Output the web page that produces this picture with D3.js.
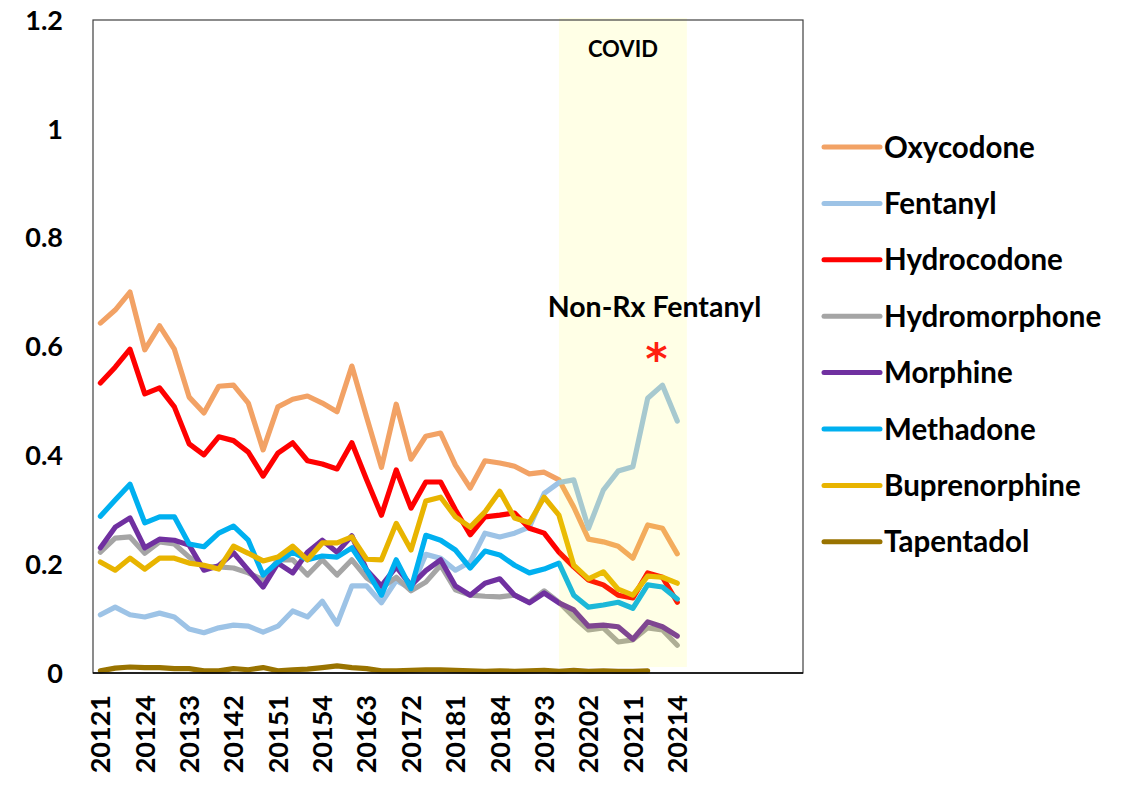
<!DOCTYPE html>
<html>
<head>
<meta charset="utf-8">
<script src="https://cdn.jsdelivr.net/npm/d3@7"></script>
<style>
  body { margin: 0; background: #fff; }
  svg { font-family: Lato, "Open Sans", sans-serif; font-weight: 700; }
</style>
</head>
<body>
<div id="chart"></div>
<script>
// quarters (year + quarter), 2012Q1 .. 2021Q4
const quarters = ["20121","20122","20123","20124","20131","20132","20133","20134",
  "20141","20142","20143","20144","20151","20152","20153","20154",
  "20161","20162","20163","20164","20171","20172","20173","20174",
  "20181","20182","20183","20184","20191","20192","20193","20194",
  "20201","20202","20203","20204","20211","20212","20213","20214"];
const emptySlots = 8; // category slots after 20214 with no data and no label
const yTicks = [0, 0.2, 0.4, 0.6, 0.8, 1, 1.2];

const oxycodone = [0.643,0.667,0.70,0.594,0.638,0.595,0.507,0.478,0.527,0.529,0.496,0.41,0.489,0.503,0.509,0.496,0.48,0.564,0.47,0.378,
  0.494,0.393,0.435,0.441,0.382,0.34,0.39,0.386,0.38,0.366,0.369,0.355,0.305,0.246,0.241,0.233,0.211,0.272,0.266,0.219];
const fentanyl = [0.107,0.121,0.107,0.103,0.11,0.103,0.081,0.074,0.083,0.088,0.086,0.075,0.086,0.114,0.103,0.132,0.09,0.16,0.16,0.129,
  0.17,0.155,0.218,0.211,0.189,0.204,0.257,0.25,0.257,0.268,0.33,0.35,0.355,0.266,0.336,0.371,0.379,0.505,0.529,0.463];
const hydrocodone = [0.533,0.562,0.595,0.513,0.524,0.489,0.421,0.401,0.434,0.427,0.406,0.362,0.404,0.423,0.39,0.384,0.375,0.423,0.355,0.29,
  0.373,0.303,0.351,0.351,0.30,0.254,0.287,0.29,0.294,0.266,0.257,0.222,0.195,0.171,0.162,0.143,0.138,0.184,0.176,0.13];
const hydromorphone = [0.222,0.248,0.25,0.22,0.241,0.237,0.213,0.195,0.195,0.193,0.184,0.171,0.208,0.208,0.18,0.208,0.18,0.208,0.175,0.156,
  0.176,0.151,0.167,0.198,0.153,0.143,0.141,0.14,0.143,0.13,0.151,0.13,0.103,0.079,0.083,0.057,0.061,0.083,0.079,0.051];
const morphine = [0.23,0.268,0.285,0.23,0.246,0.244,0.235,0.189,0.197,0.221,0.189,0.158,0.202,0.184,0.222,0.244,0.222,0.252,0.189,0.16,
  0.195,0.161,0.188,0.208,0.16,0.143,0.165,0.173,0.143,0.129,0.147,0.129,0.116,0.086,0.088,0.085,0.062,0.094,0.085,0.068];
const methadone = [0.288,0.318,0.347,0.276,0.287,0.287,0.237,0.232,0.257,0.27,0.244,0.18,0.204,0.222,0.208,0.215,0.213,0.23,0.189,0.143,
  0.208,0.155,0.253,0.244,0.226,0.193,0.224,0.217,0.198,0.184,0.191,0.202,0.143,0.121,0.125,0.13,0.119,0.162,0.158,0.136];
const buprenorphine = [0.204,0.189,0.211,0.191,0.211,0.211,0.202,0.198,0.191,0.233,0.22,0.206,0.213,0.233,0.208,0.239,0.239,0.25,0.209,0.208,
  0.275,0.226,0.316,0.323,0.287,0.268,0.296,0.334,0.285,0.276,0.323,0.29,0.198,0.173,0.186,0.154,0.143,0.178,0.176,0.165];
const tapentadol = [0.004,0.009,0.011,0.01,0.01,0.008,0.008,0.004,0.004,0.008,0.006,0.01,0.004,0.006,0.007,0.01,0.013,0.01,0.008,0.004,
  0.004,0.005,0.006,0.006,0.005,0.004,0.003,0.004,0.003,0.004,0.005,0.003,0.005,0.003,0.004,0.003,0.003,0.004];

const seriesNames = ["Oxycodone","Fentanyl","Hydrocodone","Hydromorphone","Morphine","Methadone","Buprenorphine","Tapentadol"];
const seriesValues = [oxycodone, fentanyl, hydrocodone, hydromorphone, morphine, methadone, buprenorphine, tapentadol];
const seriesColors = ["#F2A265","#9DC3E6","#FF0000","#A5A5A5","#7030A0","#00B0F0","#E8B400","#997300"];

const covidStart = "20194", covidEnd = "20214";
const annotation = "Non-Rx Fentanyl";

const width = 1132, height = 785;
const margin = { top: 20, right: 329, bottom: 112, left: 93 };

const svg = d3.select("#chart").append("svg").attr("width", width).attr("height", height);

const slots = d3.range(quarters.length + emptySlots);
const x = d3.scaleBand().domain(slots).range([margin.left, width - margin.right]);
const xc = i => x(i) + x.bandwidth() / 2;
const y = d3.scaleLinear().domain([0, 1.2]).range([height - margin.bottom, margin.top]);

// y labels
svg.append("g").selectAll("text").data(yTicks).enter().append("text")
  .attr("x", 63).attr("y", d => y(d)).attr("dy", "0.36em")
  .attr("text-anchor", "end").style("font-size", "27px").text(d => d);

// x labels (every 3rd quarter)
svg.append("g").selectAll("text")
  .data(quarters.map((q, i) => ({ q, i })).filter(d => d.i % 3 === 0)).enter().append("text")
  .attr("transform", d => `translate(${xc(d.i)},${y(0) + 22}) rotate(-90)`)
  .attr("dy", "0.36em").attr("text-anchor", "end").style("font-size", "27px")
  .text(d => d.q);

// lines
const line = d3.line().x((d, i) => xc(i)).y(d => y(d));
seriesValues.forEach((vals, k) => {
  svg.append("path").datum(vals).attr("d", line)
    .attr("fill", "none").attr("stroke", seriesColors[k]).attr("stroke-width", 5.2)
    .attr("stroke-linejoin", "round").attr("stroke-linecap", "round");
});

// COVID shading (semi-transparent, over the lines)
const i0 = quarters.indexOf(covidStart), i1 = quarters.indexOf(covidEnd);
svg.append("rect")
  .attr("x", xc(i0)).attr("y", y(1.2) - 2)
  .attr("width", xc(i1) + x.bandwidth() * 0.65 - xc(i0))
  .attr("height", y(0.011) - y(1.2) + 2)
  .attr("fill", "rgb(255,255,30)").attr("fill-opacity", 0.11);

svg.append("text").attr("x", (xc(i0) + xc(i1) + x.bandwidth() * 0.65) / 2).attr("y", 57)
  .attr("text-anchor", "middle").style("font-size", "22px").text("COVID");

// plot frame
svg.append("rect").attr("x", margin.left).attr("y", margin.top)
  .attr("width", width - margin.left - margin.right).attr("height", y(0) - margin.top)
  .attr("fill", "none").attr("stroke", "#404040").attr("stroke-width", 1.2);
svg.append("line").attr("x1", margin.left).attr("x2", width - margin.right)
  .attr("y1", y(0)).attr("y2", y(0)).attr("stroke", "#000").attr("stroke-width", 1.5);

// annotation
const ax = xc(quarters.indexOf("20213"));
svg.append("text").attr("x", ax - 8).attr("y", 317).attr("text-anchor", "middle")
  .style("font-size", "28.5px").text(annotation);
svg.append("text").attr("x", ax - 6).attr("y", 374).attr("text-anchor", "middle")
  .style("font-family", "'DejaVu Sans', sans-serif").style("font-size", "42px")
  .attr("fill", "#FF2010").text("*");

// legend
const legend = svg.append("g").attr("transform", "translate(824,147)");
seriesNames.forEach((name, k) => {
  const row = legend.append("g").attr("transform", `translate(0,${k * 56.4})`);
  row.append("line").attr("x1", 0).attr("x2", 56).attr("y1", 0).attr("y2", 0)
    .attr("stroke", seriesColors[k]).attr("stroke-width", 5).attr("stroke-linecap", "round");
  row.append("text").attr("x", 60).attr("y", 0).attr("dy", "0.36em")
    .style("font-size", "29.5px").text(name);
});
</script>
</body>
</html>
